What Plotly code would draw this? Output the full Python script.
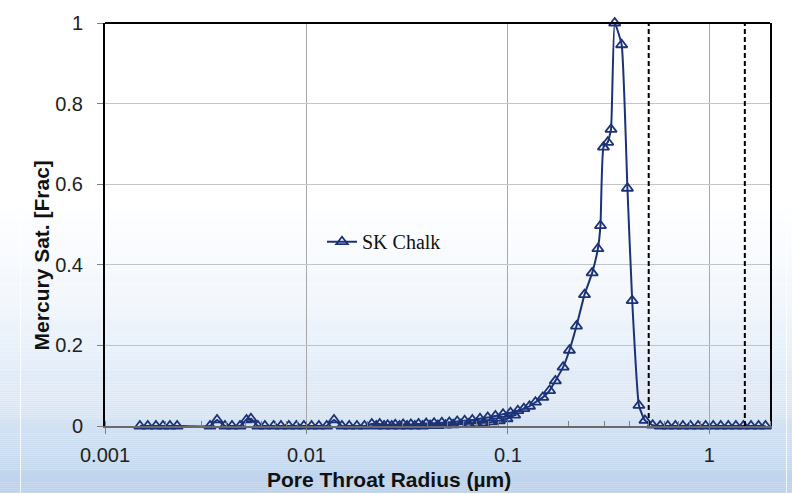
import plotly.graph_objects as go

# Pore throat radius (µm) and normalised mercury saturation, SK Chalk
radius = [
    0.00149, 0.00163, 0.00179, 0.00194, 0.0021, 0.00228,
    0.00332, 0.0036, 0.00394, 0.00427, 0.00468, 0.00504, 0.0053, 0.00574,
    0.00622, 0.00687, 0.00747, 0.00818, 0.00891, 0.00971, 0.0106, 0.01153,
    0.0126, 0.0137, 0.015, 0.0163, 0.0178, 0.0194, 0.0211, 0.0231, 0.0253,
    0.0276, 0.0302, 0.033, 0.036, 0.0393, 0.043, 0.047, 0.0512, 0.056,
    0.061, 0.0666, 0.0727, 0.0794, 0.0867, 0.0946, 0.103, 0.112, 0.12,
    0.128, 0.137, 0.149, 0.161, 0.172, 0.188, 0.202, 0.219, 0.240, 0.262,
    0.2797, 0.288, 0.298, 0.313, 0.325, 0.339, 0.367, 0.392, 0.414, 0.447,
    0.479, 0.523, 0.57, 0.622, 0.678, 0.739, 0.806, 0.879, 0.958, 1.045,
    1.139, 1.242, 1.354, 1.476, 1.61, 1.755, 1.9,
]
hg_sat = [
    0, 0, 0, 0, 0, 0,
    0, 0.015, 0, 0, 0, 0.015, 0.018, 0,
    0, 0, 0, 0, 0, 0, 0, 0,
    0, 0.015, 0, 0, 0, 0, 0.005, 0.005, 0.002,
    0.003, 0.004, 0.004, 0.005, 0.006, 0.007, 0.008, 0.009, 0.011,
    0.013, 0.015, 0.018, 0.021, 0.025, 0.029, 0.033, 0.038, 0.043,
    0.049, 0.059, 0.071, 0.088, 0.112, 0.146, 0.188, 0.248, 0.326, 0.38,
    0.44, 0.497, 0.692, 0.704, 0.736, 1.0, 0.946, 0.59, 0.311, 0.051,
    0.014, 0.002, 0, 0, 0, 0, 0, 0, 0, 0,
    0, 0, 0, 0, 0, 0, 0,
]

# Second run of readings in the low-saturation range
radius_b = [
    0.0222, 0.0243, 0.0265, 0.029, 0.0316, 0.0345, 0.0377, 0.0411, 0.0449,
    0.049, 0.0535, 0.0585, 0.0638, 0.0697, 0.076, 0.083, 0.0907, 0.099, 0.108,
]
hg_sat_b = [
    0, 0, 0, 0, 0, 0, 0, 0.001, 0.001,
    0.002, 0.003, 0.004, 0.005, 0.006, 0.008, 0.01, 0.013, 0.018, 0.027,
]

# Cut-off radii marked with dashed lines
cutoffs = [0.5, 1.5]

x_ticks = [0.001, 0.01, 0.1, 1]
x_tick_text = ["0.001", "0.01", "0.1", "1"]
y_ticks = [0, 0.2, 0.4, 0.6, 0.8, 1]
y_tick_text = ["0", "0.2", "0.4", "0.6", "0.8", "1"]

NAVY = "#1c3278"
W, H = 792, 494
ML, MR, MT, MB = 105, 22, 15, 68
PW, PH = W - ML - MR, H - MT - MB

fig = go.Figure()

fig.add_trace(go.Scatter(
    x=radius_b, y=hg_sat_b, mode="lines+markers", showlegend=False,
    line=dict(color=NAVY, width=2),
    marker=dict(symbol="triangle-up-open", size=10, color=NAVY,
                line=dict(width=1.8, color=NAVY)),
    cliponaxis=False, hoverinfo="skip",
))
fig.add_trace(go.Scatter(
    x=radius, y=hg_sat, mode="lines+markers", name="SK Chalk",
    line=dict(color=NAVY, width=2, shape="spline", smoothing=0.4),
    marker=dict(symbol="triangle-up-open", size=10, color=NAVY,
                line=dict(width=1.8, color=NAVY)),
    cliponaxis=False,
))
for c in cutoffs:
    fig.add_trace(go.Scatter(
        x=[c, c], y=[0, 1], mode="lines", showlegend=False,
        line=dict(color="black", width=2, dash="5px,3px"),
        hoverinfo="skip", cliponaxis=False,
    ))

# Vertical white-to-blue background wash
def px_to_paper_y(py):
    return (MT + PH - py) / PH

stops = [(0, (255, 255, 255)), (200, (255, 255, 255)), (300, (241, 246, 252)),
         (400, (220, 232, 246)), (494, (186, 209, 235))]

def wash(py):
    for (y0, c0), (y1, c1) in zip(stops[:-1], stops[1:]):
        if y0 <= py <= y1:
            t = (py - y0) / (y1 - y0)
            return tuple(round(a + (b - a) * t) for a, b in zip(c0, c1))
    return stops[-1][1]

shapes = []
step = 2
for py in range(200, H, step):
    r, g, b = wash(py + step / 2)
    shapes.append(dict(
        type="rect", xref="paper", yref="paper", layer="below",
        x0=-0.3, x1=1.3, y0=px_to_paper_y(py + step), y1=px_to_paper_y(py),
        fillcolor=f"rgb({r},{g},{b})", line=dict(width=0),
    ))
# faint slide edges
for px in (20.5, 786.5):
    shapes.append(dict(
        type="line", xref="paper", yref="paper", layer="below",
        x0=(px - ML) / PW, x1=(px - ML) / PW, y0=px_to_paper_y(H), y1=px_to_paper_y(0),
        line=dict(color="rgba(255,255,255,0.8)", width=1),
    ))
# top border of the plot frame
shapes.append(dict(type="line", xref="paper", yref="paper", x0=0, x1=1, y0=1, y1=1,
                   line=dict(color="black", width=2), layer="above"))

tick_font = dict(family="Liberation Sans, Arial, sans-serif", size=20, color="#222222")
title_font = dict(family="Liberation Sans, Arial, sans-serif", size=21, color="#111111", weight="bold")

fig.update_layout(
    width=W, height=H, autosize=False,
    margin=dict(l=ML, r=MR, t=MT, b=MB),
    paper_bgcolor="white", plot_bgcolor="rgba(0,0,0,0)",
    shapes=shapes,
    showlegend=True,
    legend=dict(x=(322 - ML) / PW, y=px_to_paper_y(238), xanchor="left", yanchor="middle",
                bgcolor="rgba(0,0,0,0)", borderwidth=0,
                font=dict(family="Liberation Serif, Times New Roman, serif", size=20, color="#111111")),
    annotations=[
        dict(text="Pore Throat Radius (µm)", xref="paper", yref="paper",
             x=(389 - ML) / PW, y=px_to_paper_y(481), xanchor="center", yanchor="middle",
             showarrow=False, font=title_font),
        dict(text="Mercury Sat. [Frac]", xref="paper", yref="paper", textangle=-90,
             x=(41 - ML) / PW, y=px_to_paper_y(252), xanchor="center", yanchor="middle",
             showarrow=False, font=title_font),
    ],
    xaxis=dict(
        type="log", range=[-3, 0.30103],
        tickvals=x_ticks, ticktext=x_tick_text, tickfont=tick_font,
        showgrid=True, gridcolor="#a8a8a8", gridwidth=1,
        ticks="outside", ticklen=6, tickcolor="#808080", tickwidth=1,
        showline=True, linecolor="#6a6a6a", linewidth=2,
        zeroline=False, ticklabelstandoff=4,
        minor=dict(dtick="D1", ticks="inside", ticklen=5, tickcolor="#808080", showgrid=False),
    ),
    yaxis=dict(
        range=[0, 1], tickvals=y_ticks, ticktext=y_tick_text, tickfont=tick_font,
        showgrid=True, gridcolor="#c4c4c4", gridwidth=1,
        ticks="outside", ticklen=6, tickcolor="#808080",
        showline=True, linecolor="black", linewidth=2, mirror=True,
        zeroline=False, ticklabelstandoff=10,
    ),
)

fig.write_html("out.html")
